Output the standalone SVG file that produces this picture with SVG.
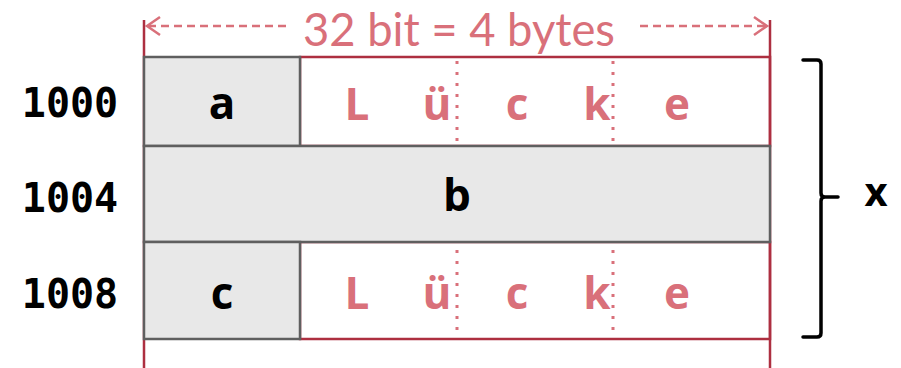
<svg xmlns="http://www.w3.org/2000/svg" width="901" height="368" viewBox="0 0 901 368">
<defs>
<style>
.gray{fill:#e8e8e8;stroke:#5f5f5f;stroke-width:2.5}
.red{stroke:#ad2f40;stroke-width:2.5;fill:none}
.dot{stroke:#d9707a;stroke-width:3;stroke-dasharray:3 8;fill:none}
.addr{font-family:"DejaVu Sans Mono",monospace;font-weight:bold;font-size:40px;fill:#000;text-anchor:middle}
.var{font-family:"Open Sans","Noto Sans",sans-serif;font-weight:bold;font-size:44px;fill:#000;text-anchor:middle}
.gap{font-family:"Open Sans","Noto Sans",sans-serif;font-weight:bold;font-size:44px;fill:#d9707a;text-anchor:middle}
.title{font-family:"Lato","Open Sans",sans-serif;font-size:46px;fill:#d9707a;text-anchor:middle}
.dash{stroke:#d9707a;stroke-width:2.5;stroke-dasharray:8 5;fill:none}
.head{stroke:#d9707a;stroke-width:2.5;fill:none}
</style>
</defs>
<g id="width-label">
<text class="title" x="459" y="46" textLength="312" lengthAdjust="spacingAndGlyphs">32 bit = 4 bytes</text>
<line class="dash" x1="148" y1="26" x2="290" y2="26"/>
<polyline class="head" points="160,17 147,26 160,35"/>
<line class="dash" x1="640" y1="26" x2="766" y2="26"/>
<polyline class="head" points="754,17 767,26 754,35"/>
</g>
<g id="frame">
<line class="red" x1="144" y1="20" x2="144" y2="368"/>
<line class="red" x1="770" y1="20" x2="770" y2="368"/>
<rect class="red" x="300" y="57" width="470" height="89"/>
<rect class="red" x="300" y="242" width="470" height="97"/>
</g>
<g id="row-1000">
<text class="addr" x="70" y="117">1000</text>
<rect class="gray" x="144" y="57" width="156" height="89"/>
<text class="var" x="222" y="119">a</text>
<line class="dot" x1="457" y1="61" x2="457" y2="142"/>
<line class="dot" x1="613" y1="61" x2="613" y2="142"/>
<text class="gap" x="357" y="120">L</text>
<text class="gap" x="437" y="120">ü</text>
<text class="gap" x="517" y="120">c</text>
<text class="gap" x="597" y="120">k</text>
<text class="gap" x="677" y="120">e</text>
</g>
<g id="row-1004">
<text class="addr" x="70" y="212">1004</text>
<rect class="gray" x="144" y="146" width="626" height="96"/>
<text class="var" x="457" y="211">b</text>
</g>
<g id="row-1008">
<text class="addr" x="70" y="308">1008</text>
<rect class="gray" x="144" y="242" width="156" height="97"/>
<text class="var" x="222" y="309">c</text>
<line class="dot" x1="457" y1="250" x2="457" y2="335"/>
<line class="dot" x1="613" y1="250" x2="613" y2="335"/>
<text class="gap" x="357" y="309">L</text>
<text class="gap" x="437" y="309">ü</text>
<text class="gap" x="517" y="309">c</text>
<text class="gap" x="597" y="309">k</text>
<text class="gap" x="677" y="309">e</text>
</g>
<g id="brace">
<path d="M803,60 H817 Q821,60 821,64 V193 Q821,197 825,197 H838 M825,197 Q821,197 821,201 V333 Q821,337 817,337 H803" fill="none" stroke="#000" stroke-width="3.5" stroke-linecap="round"/>
<text class="var" x="876" y="206" style="font-size:40px">x</text>
</g>
</svg>
